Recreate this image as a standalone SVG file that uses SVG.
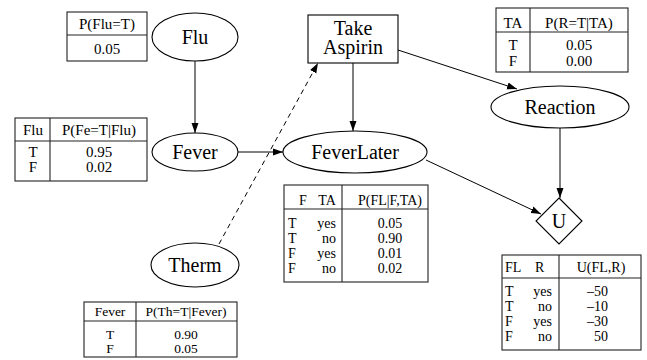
<svg xmlns="http://www.w3.org/2000/svg" width="647" height="360" viewBox="0 0 647 360" font-family="Liberation Serif, Times New Roman, DejaVu Serif, serif">
<style>
.node{fill:#fff;stroke:#000;stroke-width:1.1}
.lbl{font-size:20px;fill:#000;text-anchor:middle}
.tb{fill:#fff;stroke:#222;stroke-width:1.1}
.tl{stroke:#222;stroke-width:1.1}
.t{font-size:15px;fill:#000}
.s{font-size:14px}
.x{font-size:13.5px}
.c{text-anchor:middle}
.r{text-anchor:end}
.e{stroke:#000;stroke-width:1;fill:none}
.d{stroke-dasharray:5,4}
</style>
<defs>
<marker id="ah" markerUnits="userSpaceOnUse" markerWidth="10" markerHeight="8" refX="10" refY="4" orient="auto">
<path d="M0,0.5 L10,4 L0,7.5 Z" fill="#000"/>
</marker>
</defs>

<g id="connectors">
<line class="e" x1="195" y1="61" x2="195" y2="133" marker-end="url(#ah)"/>
<line class="e" x1="238" y1="152" x2="283" y2="152" marker-end="url(#ah)"/>
<line class="e" x1="353" y1="63" x2="353" y2="131" marker-end="url(#ah)"/>
<line class="e" x1="398" y1="50" x2="517" y2="89" marker-end="url(#ah)"/>
<line class="e" x1="560" y1="128" x2="560" y2="198" marker-end="url(#ah)"/>
<line class="e" x1="426" y1="160" x2="541" y2="214" marker-end="url(#ah)"/>
<line class="e d" x1="219" y1="244" x2="318" y2="63" marker-end="url(#ah)"/>
</g>

<g id="Flu">
<ellipse class="node" cx="195" cy="37" rx="43" ry="24"/>
<text class="lbl" x="195" y="44">Flu</text>
</g>
<g id="Fever">
<ellipse class="node" cx="195" cy="152" rx="43" ry="19"/>
<text class="lbl" x="195" y="159">Fever</text>
</g>
<g id="Therm">
<ellipse class="node" cx="195" cy="265" rx="44" ry="22"/>
<text class="lbl" x="195" y="272">Therm</text>
</g>
<g id="TakeAspirin">
<rect class="node" x="308" y="15" width="90" height="48"/>
<text class="lbl" x="353" y="35">Take</text>
<text class="lbl" x="353" y="54">Aspirin</text>
</g>
<g id="FeverLater">
<ellipse class="node" cx="355" cy="152" rx="72" ry="21"/>
<text class="lbl" x="355" y="159">FeverLater</text>
</g>
<g id="Reaction">
<ellipse class="node" cx="560" cy="107" rx="69" ry="21"/>
<text class="lbl" x="560" y="114">Reaction</text>
</g>
<g id="U">
<path class="node" d="M559,198 L582,221 L559,244 L536,221 Z"/>
<text class="lbl" x="559" y="228">U</text>
</g>

<g id="table-flu">
<rect class="tb" x="67" y="12" width="80" height="49"/>
<line class="tl" x1="67" y1="35" x2="147" y2="35"/>
<text class="t c" x="107" y="29">P(Flu=T)</text>
<text class="t c" x="107" y="54">0.05</text>
</g>

<g id="table-fever">
<rect class="tb" x="15" y="118" width="132" height="63"/>
<line class="tl" x1="15" y1="141" x2="147" y2="141"/>
<line class="tl" x1="50" y1="118" x2="50" y2="181"/>
<text class="t c" x="33" y="135">Flu</text>
<text class="t c" x="99" y="135">P(Fe=T|Flu)</text>
<text class="t c" x="33" y="157">T</text>
<text class="t c" x="99" y="157">0.95</text>
<text class="t c" x="33" y="172">F</text>
<text class="t c" x="99" y="172">0.02</text>
</g>

<g id="table-therm">
<rect class="tb" x="84" y="302" width="153" height="55"/>
<line class="tl" x1="84" y1="321" x2="237" y2="321"/>
<line class="tl" x1="136" y1="302" x2="136" y2="357"/>
<text class="t x c" x="110" y="316">Fever</text>
<text class="t x c" x="186" y="316">P(Th=T|Fever)</text>
<text class="t x c" x="110" y="339">T</text>
<text class="t x c" x="186" y="339">0.90</text>
<text class="t x c" x="110" y="353">F</text>
<text class="t x c" x="186" y="353">0.05</text>
</g>

<g id="table-ta">
<rect class="tb" x="496" y="8" width="132" height="64"/>
<line class="tl" x1="496" y1="32" x2="628" y2="32"/>
<line class="tl" x1="530" y1="8" x2="530" y2="72"/>
<text class="t c" x="513" y="28">TA</text>
<text class="t c" x="579" y="28">P(R=T|TA)</text>
<text class="t c" x="513" y="50">T</text>
<text class="t c" x="579" y="50">0.05</text>
<text class="t c" x="513" y="66">F</text>
<text class="t c" x="579" y="66">0.00</text>
</g>

<g id="table-fl">
<rect class="tb" x="284" y="185" width="144" height="97"/>
<line class="tl" x1="284" y1="209" x2="428" y2="209"/>
<line class="tl" x1="342" y1="185" x2="342" y2="282"/>
<text class="t s c" x="303" y="205">F</text>
<text class="t s c" x="327" y="205">TA</text>
<text class="t s c" x="390" y="205">P(FL|F,TA)</text>
<text class="t s" x="288" y="228">T</text>
<text class="t s r" x="336" y="228">yes</text>
<text class="t s c" x="390" y="228">0.05</text>
<text class="t s" x="288" y="243">T</text>
<text class="t s r" x="336" y="243">no</text>
<text class="t s c" x="390" y="243">0.90</text>
<text class="t s" x="288" y="258">F</text>
<text class="t s r" x="336" y="258">yes</text>
<text class="t s c" x="390" y="258">0.01</text>
<text class="t s" x="288" y="273">F</text>
<text class="t s r" x="336" y="273">no</text>
<text class="t s c" x="390" y="273">0.02</text>
</g>

<g id="table-u">
<rect class="tb" x="502" y="255" width="139" height="95"/>
<line class="tl" x1="502" y1="278" x2="641" y2="278"/>
<line class="tl" x1="559" y1="255" x2="559" y2="350"/>
<text class="t s" x="505" y="272">FL</text>
<text class="t s" x="535" y="272">R</text>
<text class="t s c" x="601" y="272">U(FL,R)</text>
<text class="t s" x="505" y="296">T</text>
<text class="t s r" x="552" y="296">yes</text>
<text class="t s r" x="608" y="296">–50</text>
<text class="t s" x="505" y="311">T</text>
<text class="t s r" x="552" y="311">no</text>
<text class="t s r" x="608" y="311">–10</text>
<text class="t s" x="505" y="326">F</text>
<text class="t s r" x="552" y="326">yes</text>
<text class="t s r" x="608" y="326">–30</text>
<text class="t s" x="505" y="341">F</text>
<text class="t s r" x="552" y="341">no</text>
<text class="t s r" x="608" y="341">50</text>
</g>
</svg>
